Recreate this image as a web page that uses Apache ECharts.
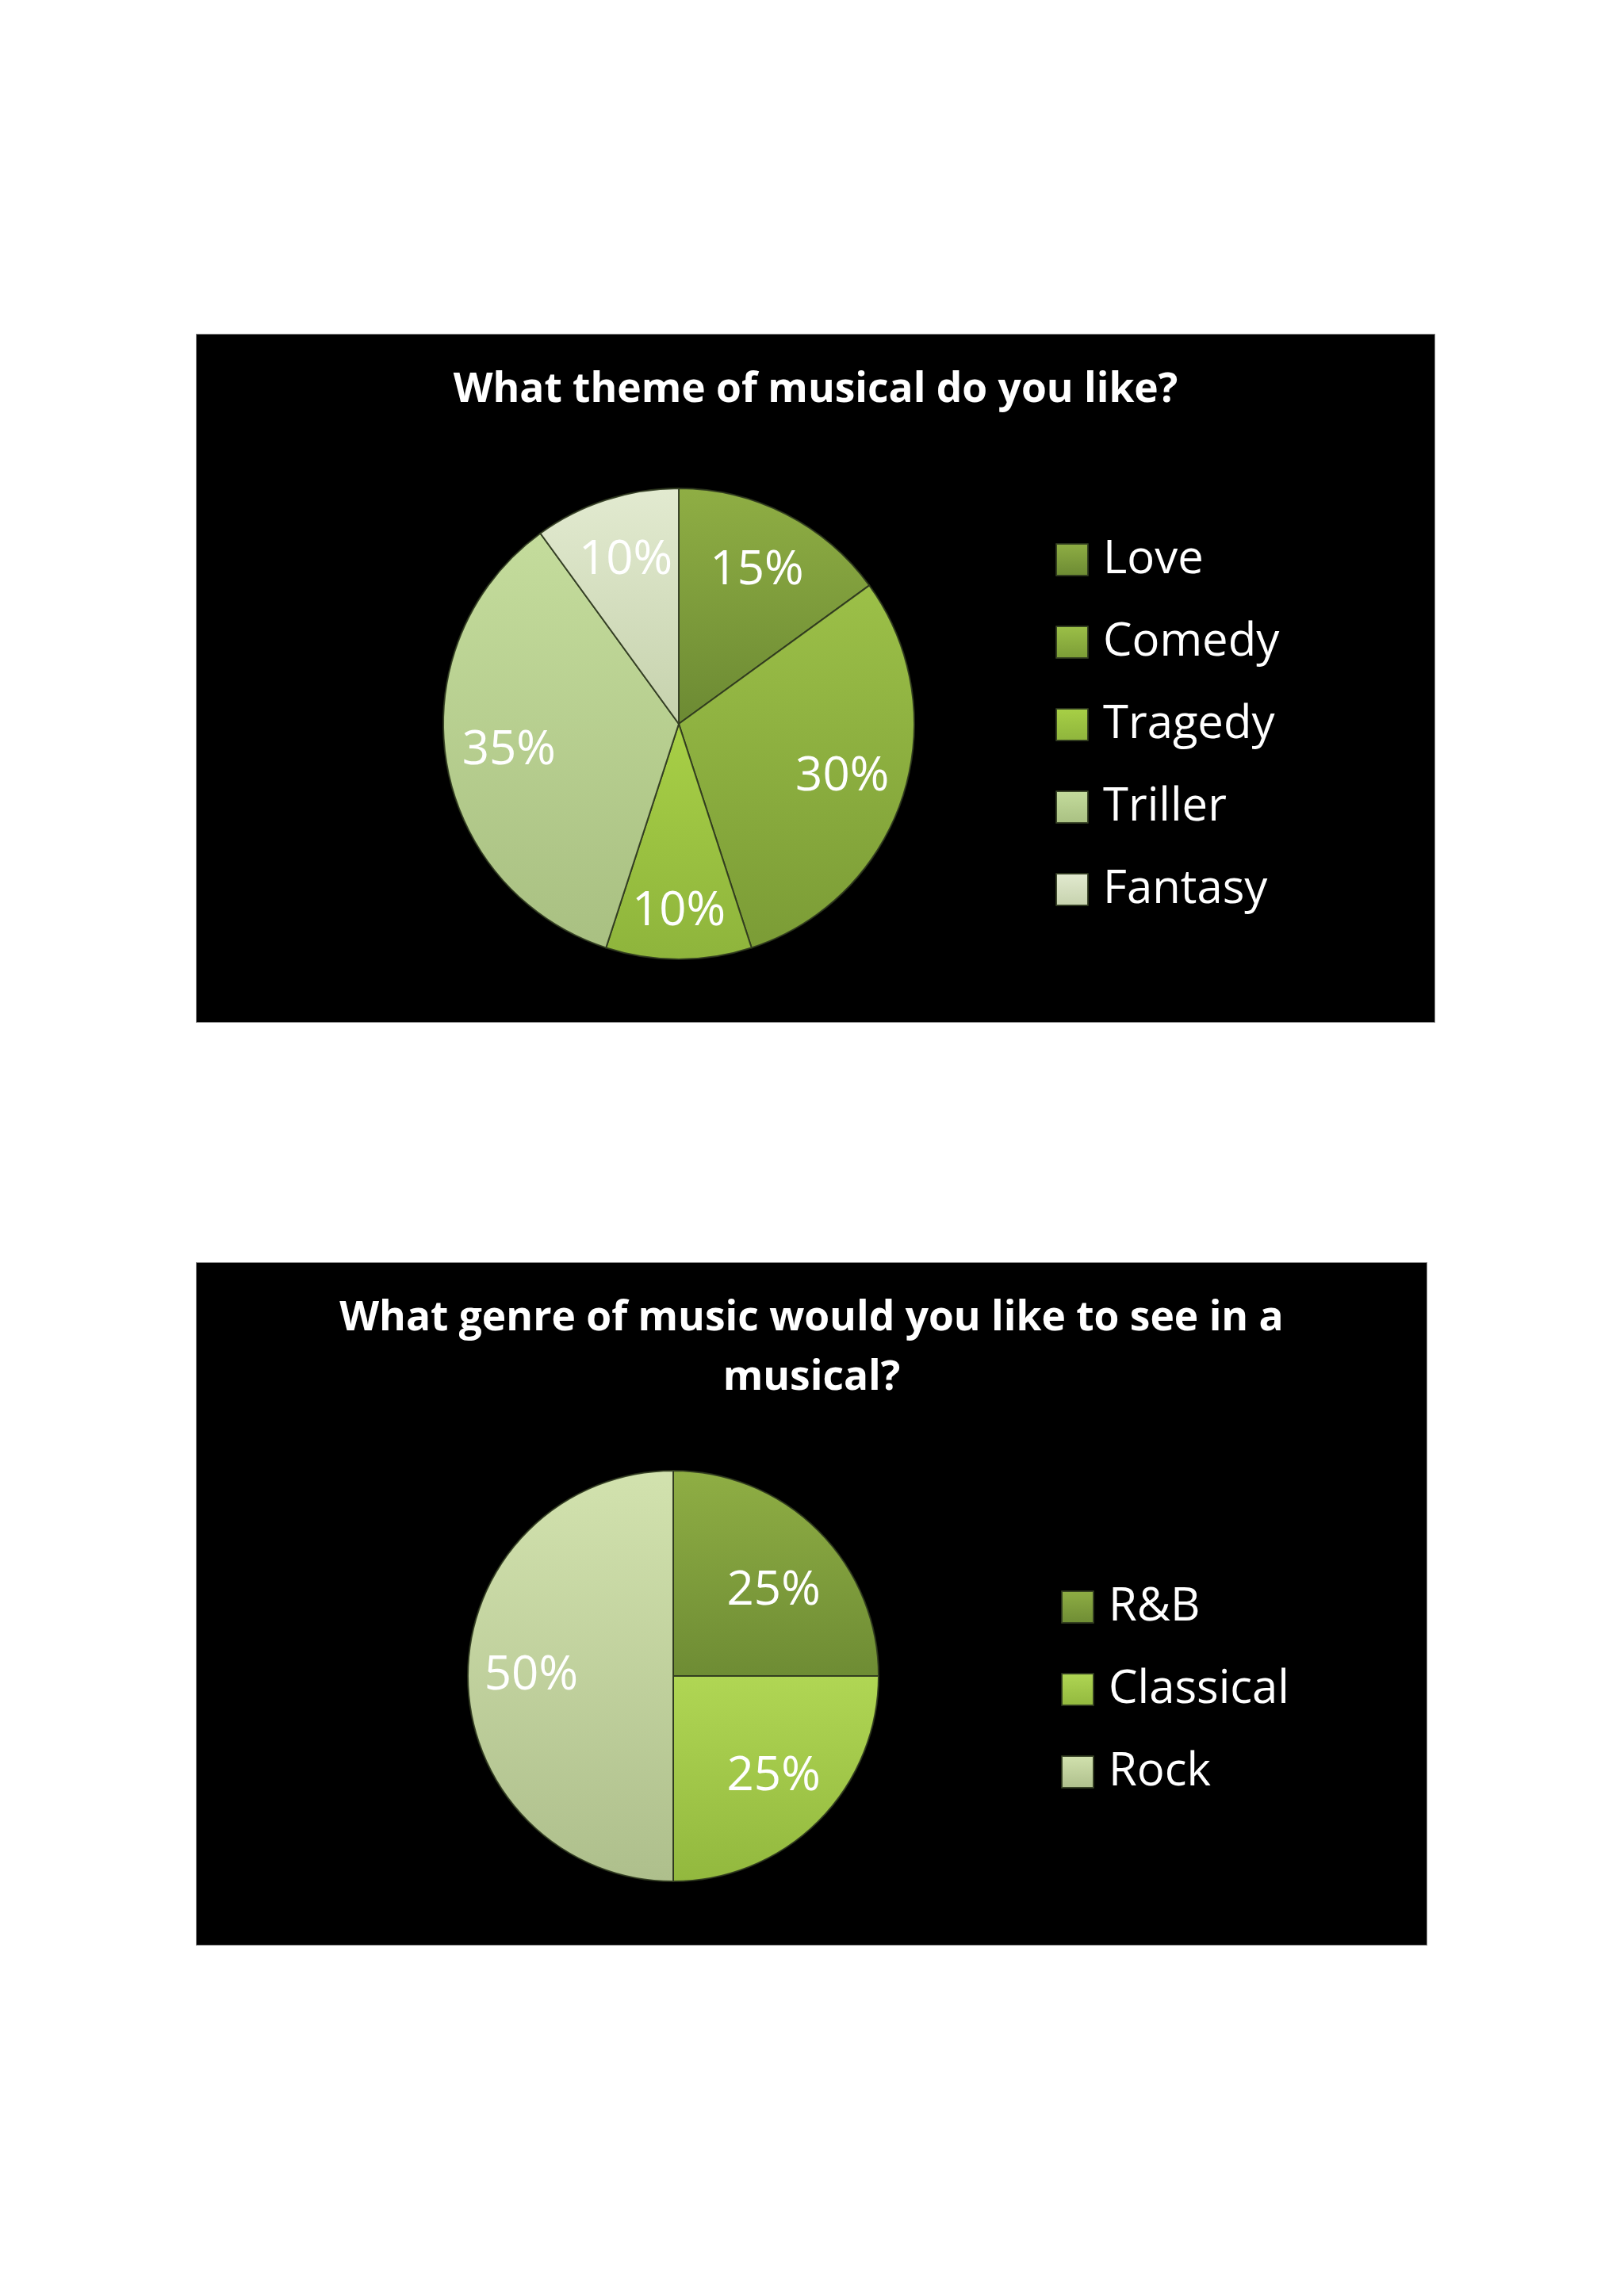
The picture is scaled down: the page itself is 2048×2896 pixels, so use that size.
<!DOCTYPE html>
<html>
<head>
<meta charset="utf-8">
<title>Musical survey</title>
<script src="https://cdn.jsdelivr.net/npm/echarts@6/dist/echarts.min.js"></script>
<style>
    html, body { margin: 0; padding: 0; background: #ffffff; }
    body { width: 2048px; height: 2896px; position: relative; }
    .chart-box {
        position: absolute;
        background: #000000;
        border: 1px solid #888888;
        box-sizing: border-box;
    }
    #themeChart { left: 247px; top: 421px; width: 1563px; height: 869px; }
    #genreChart { left: 247px; top: 1592px; width: 1553px; height: 862px; }
</style>
</head>
<body>
<div id="themeChart" class="chart-box"></div>
<div id="genreChart" class="chart-box"></div>

<script>
// 数据 - theme of musical
const themeNames = ['Love', 'Comedy', 'Tragedy', 'Triller', 'Fantasy'];
const themeValues = [15, 30, 10, 35, 10];
// 数据 - genre of music
const genreNames = ['R&B', 'Classical', 'Rock'];
const genreValues = [25, 25, 50];

// slice colours (top -> bottom of each slice)
const themeColors = [
    ['#8fae44', '#6c8a33'],
    ['#9cc048', '#7b9c36'],
    ['#a8d046', '#8eb43c'],
    ['#c4dc9c', '#a9c082'],
    ['#e2ead0', '#c6d2ad']
];
const genreColors = [
    ['#8fae44', '#6e8c34'],
    ['#b0d654', '#92b83e'],
    ['#d2e2ae', '#aebf8c']
];

const FONT = "'Open Sans', 'DejaVu Sans', sans-serif";

document.addEventListener('DOMContentLoaded', function() {
    drawPie('themeChart', {
        title: 'What theme of musical do you like?',
        names: themeNames,
        values: themeValues,
        colors: themeColors,
        center: [608, 491],
        radius: 297,
        labelRatio: 0.44,
        labelShift: { 2: 20 },   // Excel pushes the small bottom label outwards
        legendLeft: 1078,
        legendTop: 250
    });
    drawPie('genreChart', {
        title: 'What genre of music would you like to see in a\nmusical?',
        names: genreNames,
        values: genreValues,
        colors: genreColors,
        center: [601, 521],
        radius: 259,
        labelRatio: 0.36,
        labelShift: { 0: 20 },
        legendLeft: 1085,
        legendTop: 400
    });
});

function gradient(pair) {
    return new echarts.graphic.LinearGradient(0, 0, 0, 1, [
        { offset: 0, color: pair[0] },
        { offset: 1, color: pair[1] }
    ]);
}

function drawPie(domId, cfg) {
    const chart = echarts.init(document.getElementById(domId));

    const sliceData = cfg.names.map(function(name, i) {
        return { name: name, value: cfg.values[i], itemStyle: { color: gradient(cfg.colors[i]) } };
    });
    const labelData = cfg.names.map(function(name, i) {
        return { name: name, value: cfg.values[i] };
    });

    const option = {
        backgroundColor: '#000000',
        animation: false,
        title: {
            text: cfg.title,
            left: 'center',
            top: 28,
            textStyle: {
                color: '#ffffff',
                fontFamily: FONT,
                fontWeight: 'bold',
                fontSize: 51.5,
                lineHeight: 75
            }
        },
        legend: {
            orient: 'vertical',
            left: cfg.legendLeft,
            top: cfg.legendTop,
            icon: 'rect',
            itemWidth: 40,
            itemHeight: 40,
            itemGap: 46,
            data: cfg.names,
            textStyle: {
                color: '#ffffff',
                fontFamily: FONT,
                fontSize: 58,
                padding: [0, 0, 0, 14]
            }
        },
        series: [
            {
                // the slices
                type: 'pie',
                center: cfg.center,
                radius: cfg.radius,
                startAngle: 90,
                clockwise: true,
                data: sliceData,
                label: { show: false },
                labelLine: { show: false },
                itemStyle: {
                    borderColor: 'rgba(45, 55, 30, 0.9)',
                    borderWidth: 2
                },
                emphasis: { disabled: true }
            },
            {
                // transparent ring that carries the percent labels
                type: 'pie',
                silent: true,
                center: cfg.center,
                radius: [cfg.radius * cfg.labelRatio, cfg.radius],
                startAngle: 90,
                clockwise: true,
                data: labelData,
                itemStyle: { color: 'rgba(0,0,0,0)', borderWidth: 0 },
                label: {
                    show: true,
                    position: 'inside',
                    formatter: '{c}%',
                    color: '#ffffff',
                    fontFamily: FONT,
                    fontSize: 60,
                    textBorderWidth: 0
                },
                labelLayout: function(params) {
                    const shift = cfg.labelShift[params.dataIndex];
                    return shift ? { dy: shift } : {};
                },
                labelLine: { show: false },
                emphasis: { disabled: true }
            }
        ]
    };

    chart.setOption(option);
    return chart;
}
</script>
</body>
</html>
